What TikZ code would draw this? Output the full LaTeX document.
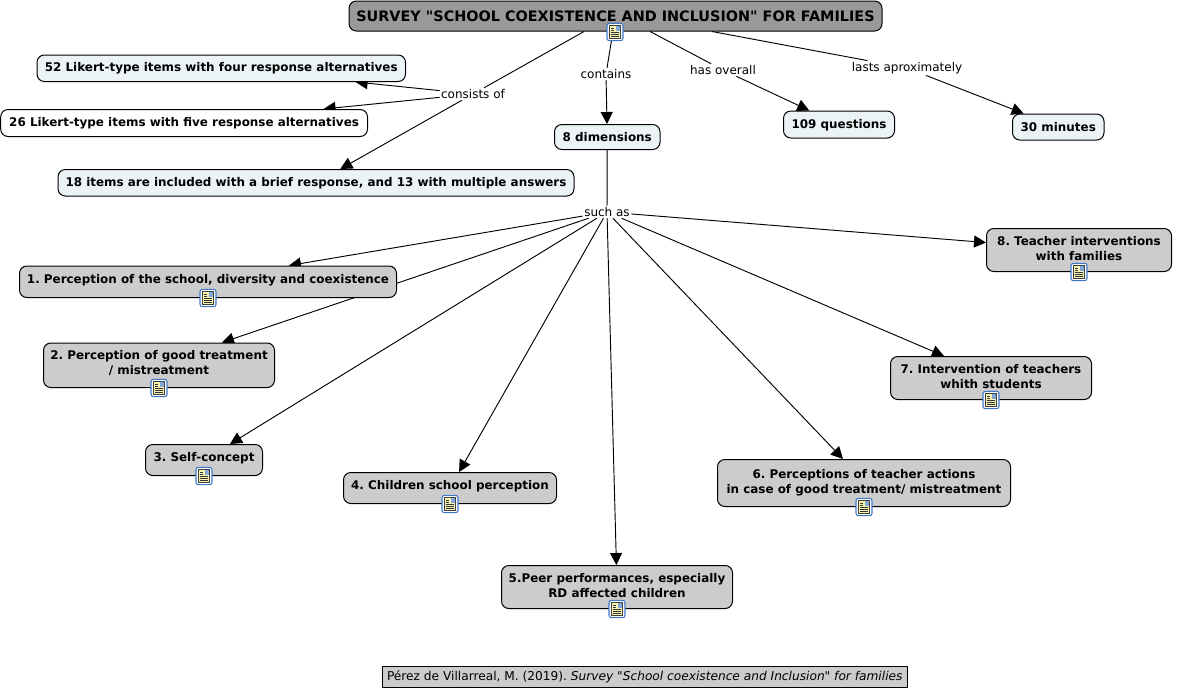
\documentclass[tikz,border=0pt]{standalone}
\usepackage{fontspec}
\newfontfamily\vfont{DejaVu Sans}
\frenchspacing
\usetikzlibrary{arrows.meta,backgrounds}
\definecolor{lightbox}{HTML}{ECF3F6}
\definecolor{graybox}{HTML}{CCCCCC}
\definecolor{titlebox}{HTML}{999999}
\definecolor{iconblue}{HTML}{3F78C8}
\definecolor{iconyellow}{HTML}{F8F4B0}
\newcommand{\liftup}[1]{\raisebox{1.5pt}[\height][\depth]{#1}}
\newcommand{\liftless}[1]{\raisebox{0.75pt}[\height][\depth]{#1}}
\tikzset{
  x=0.75pt,y=-0.75pt,
  concept/.style={draw=black,line width=0.75pt,rounded corners=5.5pt,inner sep=0pt,align=center,font=\vfont\fontsize{8.95}{11.25}\selectfont\bfseries,text=black},
  lightc/.style={concept,fill=lightbox},
  whitec/.style={concept,fill=white},
  grayc/.style={concept,fill=graybox},
  linklabel/.style={fill=white,inner xsep=1pt,inner ysep=1pt,font=\vfont\fontsize{9.0}{11}\selectfont,text=black},
  plain link/.style={draw=black,line width=0.7pt},
  arrow link/.style={plain link,-{Triangle[length=9pt,width=9pt]}},
  docicon/.pic={
    \draw[iconblue,fill=white,line width=0.8pt,rounded corners=1.8pt] (-8,-8.7) rectangle (8,8.7);
    \draw[black!75,fill=iconyellow,line width=0.45pt] (-5.5,-6.3) rectangle (5.5,6.3);
    \fill[iconblue!65] (0.5,-5.7) rectangle (5,-1.2);
    \draw[black!80,line width=0.4pt] (-4,-4) -- (-0.7,-4) (-4,-2) -- (-0.7,-2) (-4,0.5) -- (4.3,0.5) (-4,2.5) -- (4.3,2.5) (-4,4.5) -- (4.3,4.5);
  }
}
\begin{document}
\begin{tikzpicture}
\useasboundingbox (0,0) rectangle (1178,694);
\newcommand{\cbox}[7]{\node[#1,minimum width={(#5-#3)*0.75pt},minimum height={(#6-#4)*0.75pt}] (#2) at ({(#3+#5)/2},{(#4+#6)/2}) {#7};}
\cbox{concept,fill=titlebox,font=\vfont\fontsize{10.8}{13}\selectfont\bfseries}{title}{349}{1}{882}{31}{SURVEY "SCHOOL COEXISTENCE AND INCLUSION" FOR FAMILIES}
\cbox{lightc}{a}{37}{55}{405.5}{81.5}{52 Likert-type items with four response alternatives}
\cbox{whitec}{b}{0.7}{109.5}{367.5}{136.5}{26 Likert-type items with five response alternatives}
\cbox{lightc}{c}{58}{169.5}{574}{196}{18 items are included with a brief response, and 13 with multiple answers}
\cbox{lightc}{dim}{554.5}{124.5}{660}{149.5}{8 dimensions}
\cbox{lightc}{q}{783.5}{111}{894.5}{138}{\raisebox{-0.75pt}[\height][\depth]{109 questions}}
\cbox{lightc}{m}{1012.5}{114}{1104}{140}{30 minutes}
\cbox{grayc}{n1}{19.5}{266}{396.5}{297.5}{\liftup{1. Perception of the school, diversity and coexistence}}
\cbox{grayc}{n2}{43.5}{343}{274.5}{387.5}{\liftup{2. Perception of good treatment}\\\liftup{/ mistreatment}}
\cbox{grayc}{n3}{145.5}{444.5}{262.5}{475.5}{\liftup{3. Self-concept}}
\cbox{grayc}{n4}{343.5}{472.5}{556.5}{503.5}{\liftup{4. Children school perception}}
\cbox{grayc}{n5}{501.5}{565.5}{732.5}{608.5}{\liftless{5.Peer performances, especially}\\\liftless{RD affected children}}
\cbox{grayc}{n6}{717.5}{459.5}{1010.5}{506.5}{6. Perceptions of teacher actions\\in case of good treatment/ mistreatment}
\cbox{grayc}{n7}{890.5}{356.5}{1091.5}{399.5}{\liftless{7. Intervention of teachers}\\\liftless{whith students}}
\cbox{grayc}{n8}{986.5}{228.5}{1171.5}{271.5}{\liftless{8. Teacher interventions}\\\liftless{with families}}
\node[linklabel] (consists) at (473,94) {consists of};
\node[linklabel] (contains) at (606,74) {contains};
\node[linklabel] (overall) at (723,70) {has overall};
\node[linklabel] (lasts) at (907,68) {lasts aproximately};
\node[linklabel] (such) at (607,212) {such as};
\node[draw=black,fill=graybox,line width=0.75pt,inner sep=0pt,minimum width=393.75pt,minimum height=15.75pt,font=\vfont\fontsize{9.14}{11}\selectfont,text=black] (foot) at (644.75,676.5) {Pérez de Villarreal, M. (2019). \textit{Survey "School coexistence and Inclusion" for families}\hspace{3pt}};
\begin{scope}[on background layer]
\draw[plain link] ([xshift=-23.6pt]title.south) -- (consists);
\draw[plain link] (title) -- (contains);
\draw[plain link] ([xshift=25.9pt]title.south) -- (overall);
\draw[plain link] ([xshift=72.4pt]title.south) -- (lasts);
\draw[plain link] (dim) -- (such);
\draw[arrow link] (consists) -- (a);
\draw[arrow link] (consists) -- (b);
\draw[arrow link] (consists) -- (c);
\draw[arrow link] (contains) -- (dim);
\draw[arrow link] (overall) -- (q);
\draw[arrow link] (lasts) -- (m);
\draw[arrow link] (such) -- ([xshift=60.75pt]n1.north);
\draw[arrow link] (such) -- ([xshift=47.25pt]n2.north);
\draw[arrow link] (such) -- (n3);
\draw[arrow link] (such) -- (n4);
\draw[arrow link] (such) -- (n5);
\draw[arrow link] (such) -- ([xshift=-15.75pt]n6.north);
\draw[arrow link] (such) -- ([xshift=-35.25pt]n7.north);
\draw[arrow link] (such) -- (n8);
\end{scope}
\foreach \px/\py in {615/32,208/298,159/388,204/476,450/504,617/609,864/507,991/400,1079/272}{\pic at (\px,\py) {docicon};}
\end{tikzpicture}
\end{document}
